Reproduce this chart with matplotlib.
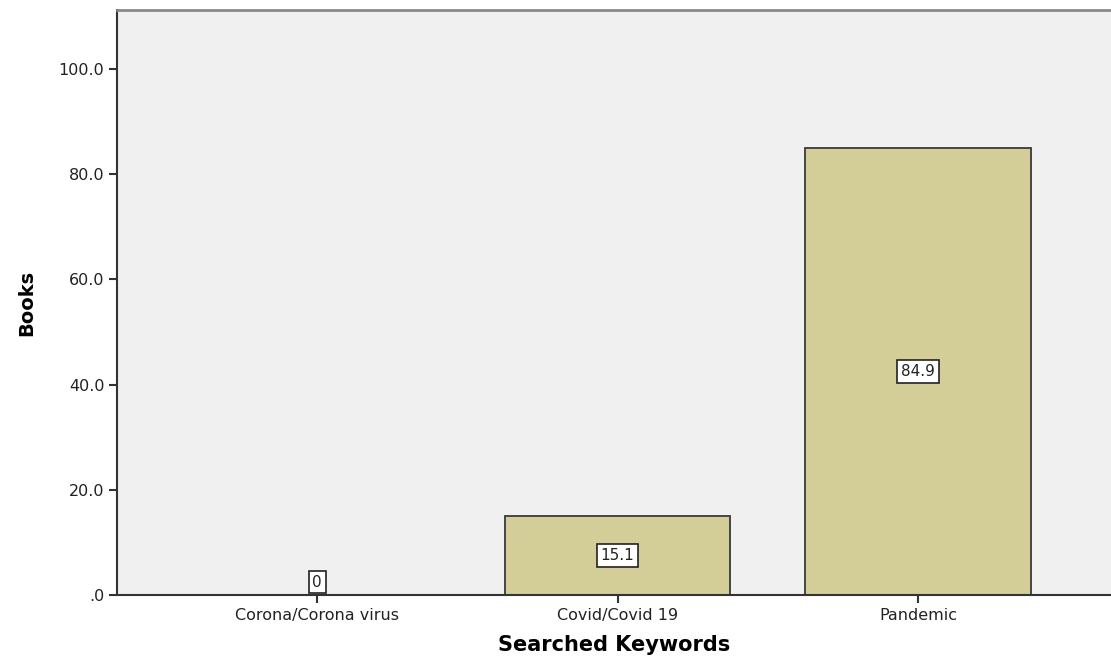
import matplotlib
matplotlib.use("Agg")
import matplotlib.pyplot as plt

categories = ["Corona/Corona virus", "Covid/Covid 19", "Pandemic"]
values = [0, 15.1, 84.9]
value_labels = ["0", "15.1", "84.9"]
y_ticks = [0, 20, 40, 60, 80, 100]
y_tick_labels = [".0", "20.0", "40.0", "60.0", "80.0", "100.0"]

plt.rcParams['font.family'] = ['DejaVu Sans']

fig = plt.figure(figsize=(11.11, 6.58), dpi=100)
ax = fig.add_axes([0.1053, 0.0957, 0.8947, 0.8891])
ax.set_facecolor('#f0f0f0')

x = list(range(len(categories)))
ax.bar(x, values, width=0.75, color='#d3cd97', edgecolor='#3a3a3a', linewidth=1.3, zorder=2)

for xi, v, lab in zip(x, values, value_labels):
    ypos = v / 2 if v > 0 else 2.45
    ax.text(xi, ypos, lab, ha='center', va='center', fontsize=11, color='#222222', zorder=3,
            bbox=dict(boxstyle='square,pad=0.25', facecolor='white', edgecolor='#222222', linewidth=1.2))

ax.set_xlim(-0.667, 2.643)
ax.set_ylim(0, 111.2)
ax.set_xticks(x)
ax.set_xticklabels(categories, fontsize=11.5, color='#222222')
ax.set_yticks(y_ticks)
ax.set_yticklabels(y_tick_labels, fontsize=11.5, color='#222222')
ax.tick_params(axis='both', direction='out', length=6, width=1.5, color='#333333', pad=3)

ax.set_xlabel('Searched Keywords', fontsize=15, fontweight='bold', labelpad=9)
ax.set_ylabel('Books', fontsize=14, fontweight='bold', labelpad=16)

for side in ['left', 'bottom']:
    ax.spines[side].set_color('#333333')
    ax.spines[side].set_linewidth(1.5)
ax.spines['top'].set_color('#888888')
ax.spines['top'].set_linewidth(2)
ax.spines['right'].set_visible(False)

plt.savefig('out.png', dpi=100)
plt.close()
